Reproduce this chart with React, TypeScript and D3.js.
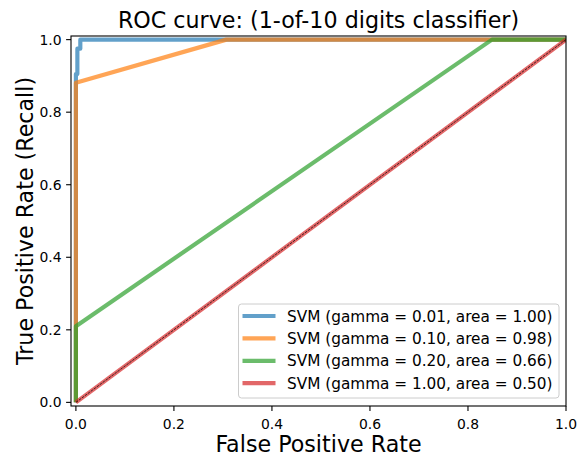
import { useEffect, useRef } from "react";
import * as d3 from "d3";

// ROC curves
const labels = [
    "SVM (gamma = 0.01, area = 1.00)",
    "SVM (gamma = 0.10, area = 0.98)",
    "SVM (gamma = 0.20, area = 0.66)",
    "SVM (gamma = 1.00, area = 0.50)",
];
const colors = ["#1f77b4", "#ff7f0e", "#2ca02c", "#d62728"];

const fpr001 = [0, 0, 0.003, 0.003, 0.009, 0.009, 1];
const tpr001 = [0, 0.905, 0.905, 0.975, 0.975, 1, 1];
const fpr010 = [0, 0, 0.307, 1];
const tpr010 = [0, 0.881, 1, 1];
const fpr020 = [0, 0, 0.849, 1];
const tpr020 = [0, 0.21, 1, 1];
const fpr100 = [0, 1];
const tpr100 = [0, 1];

const diagonal = [0, 1];
const xTicks = [0, 0.2, 0.4, 0.6, 0.8, 1.0];
const yTicks = [0, 0.2, 0.4, 0.6, 0.8, 1.0];

const W = 587;
const H = 468;
const FONT = "'DejaVu Sans', sans-serif";

export default function App() {
    const svgRef = useRef<SVGSVGElement>(null);

    useEffect(() => {
        if (!svgRef.current) return;
        const svg = d3.select(svgRef.current);
        svg.selectAll("*").remove();

        const plot = { left: 71, right: 566, top: 36, bottom: 406 };

        const x = d3.scaleLinear().domain([-0.01, 1.0]).range([plot.left, plot.right]);
        const y = d3.scaleLinear().domain([-0.01, 1.01]).range([plot.bottom, plot.top]);

        svg.append("rect").attr("width", W).attr("height", H).style("fill", "#fff");

        svg.append("clipPath").attr("id", "plot-clip")
            .append("rect")
            .attr("x", plot.left).attr("y", plot.top)
            .attr("width", plot.right - plot.left)
            .attr("height", plot.bottom - plot.top);

        const series = [
            { fpr: fpr001, tpr: tpr001 },
            { fpr: fpr010, tpr: tpr010 },
            { fpr: fpr020, tpr: tpr020 },
            { fpr: fpr100, tpr: tpr100 },
        ];

        const line = d3.line<[number, number]>()
            .x(d => x(d[0]))
            .y(d => y(d[1]));

        const lines = svg.append("g").attr("clip-path", "url(#plot-clip)");

        series.forEach((s, i) => {
            lines.append("path")
                .attr("d", line(s.fpr.map((f, j) => [f, s.tpr[j]] as [number, number])))
                .style("fill", "none")
                .style("stroke", colors[i])
                .style("stroke-opacity", 0.7)
                .style("stroke-width", 4.17)
                .style("stroke-linejoin", "round")
                .style("stroke-linecap", "butt");
        });

        // chance line
        lines.append("path")
            .attr("d", line(diagonal.map(v => [v, v] as [number, number])))
            .style("fill", "none")
            .style("stroke", "#000")
            .style("stroke-width", 0.7)
            .style("stroke-dasharray", "2.6,1.1");

        // spines
        svg.append("rect")
            .attr("x", plot.left).attr("y", plot.top)
            .attr("width", plot.right - plot.left)
            .attr("height", plot.bottom - plot.top)
            .style("fill", "none")
            .style("stroke", "#000")
            .style("stroke-width", 1.1);

        // x ticks
        const xt = svg.append("g");
        xTicks.forEach(t => {
            xt.append("line")
                .attr("x1", x(t)).attr("x2", x(t))
                .attr("y1", plot.bottom).attr("y2", plot.bottom + 4.9)
                .style("stroke", "#000").style("stroke-width", 1.1);
            xt.append("text")
                .attr("x", x(t)).attr("y", plot.bottom + 22.5)
                .attr("text-anchor", "middle")
                .style("font-family", FONT).style("font-size", "13.9px")
                .text(t.toFixed(1));
        });

        // y ticks
        const yt = svg.append("g");
        yTicks.forEach(t => {
            yt.append("line")
                .attr("x1", plot.left - 4.9).attr("x2", plot.left)
                .attr("y1", y(t)).attr("y2", y(t))
                .style("stroke", "#000").style("stroke-width", 1.1);
            yt.append("text")
                .attr("x", plot.left - 9.5).attr("y", y(t) + 5)
                .attr("text-anchor", "end")
                .style("font-family", FONT).style("font-size", "13.9px")
                .text(t.toFixed(1));
        });

        // axis labels + title
        svg.append("text")
            .attr("x", (plot.left + plot.right) / 2).attr("y", 452)
            .attr("text-anchor", "middle")
            .style("font-family", FONT).style("font-size", "22.2px")
            .text("False Positive Rate");

        svg.append("text")
            .attr("transform", `translate(33,${(plot.top + plot.bottom) / 2}) rotate(-90)`)
            .attr("text-anchor", "middle")
            .style("font-family", FONT).style("font-size", "22.2px")
            .text("True Positive Rate (Recall)");

        svg.append("text")
            .attr("x", (plot.left + plot.right) / 2).attr("y", 27.5)
            .attr("text-anchor", "middle")
            .style("font-family", FONT).style("font-size", "22.2px")
            .text("ROC curve: (1-of-10 digits classifier)");

        // legend
        const legend = svg.append("g").attr("transform", "translate(238.5,304)");
        legend.append("rect")
            .attr("width", 320.5).attr("height", 94)
            .attr("rx", 3)
            .style("fill", "#fff").style("fill-opacity", 0.8)
            .style("stroke", "#cccccc").style("stroke-width", 1);

        labels.forEach((lab, i) => {
            const cy = 12 + i * 22.4;
            legend.append("line")
                .attr("x1", 4).attr("x2", 37)
                .attr("y1", cy).attr("y2", cy)
                .style("stroke", colors[i])
                .style("stroke-opacity", 0.7)
                .style("stroke-width", 4.17);
            legend.append("text")
                .attr("x", 48.5).attr("y", cy + 5.5)
                .style("font-family", FONT).style("font-size", "15.3px")
                .text(lab);
        });
    }, []);

    return (
        <svg
            ref={svgRef}
            width={W}
            height={H}
            style={{ position: "fixed", left: 0, top: 0, display: "block" }}
        />
    );
}
